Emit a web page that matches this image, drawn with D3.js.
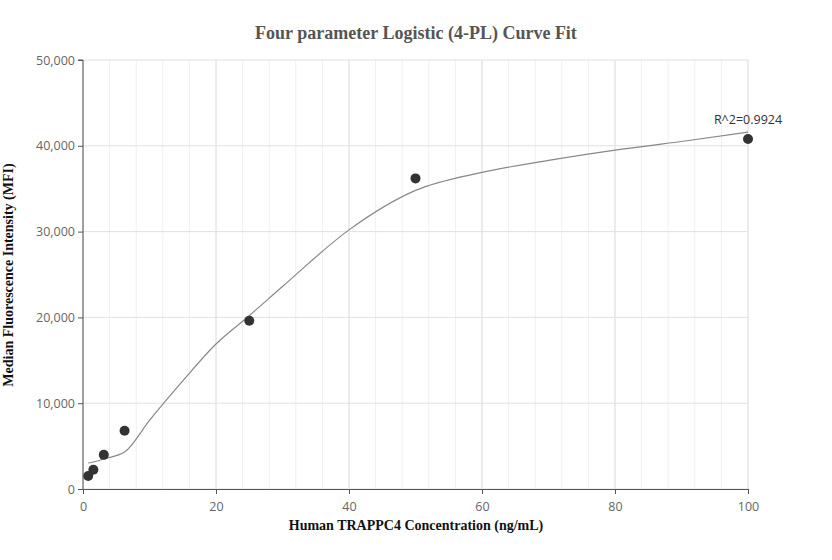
<!DOCTYPE html><html><head><meta charset="utf-8">
<script src="https://cdn.jsdelivr.net/npm/d3@7"></script>
<style>body{margin:0;background:#fff}</style></head><body><svg id="c" width="832" height="560"></svg>
<script>
const pointX=[0.78,1.56,3.125,6.25,25,50,100];
const pointY=[1520,2250,3980,6780,19600,36200,40800];
const curveX=[0.78,1.56,3.125,6.25,10,15,20,25,30,40,50,60,70,80,90,100];
const curveY=[3030,3150,3500,4300,8000,12600,16900,20200,23600,30200,34800,36900,38300,39500,40500,41600];
const xTicks=[0,20,40,60,80,100];
const yTicks=[0,10000,20000,30000,40000,50000];
const title="Four parameter Logistic (4-PL) Curve Fit";
const xLabel="Human TRAPPC4 Concentration (ng/mL)";
const yLabel="Median Fluorescence Intensity (MFI)";
const r2="R^2=0.9924";
const svg=d3.select("#c");
const L=83,R=748,T=60,B=489;
const x=d3.scaleLinear().domain([0,100]).range([L,R]);
const y=d3.scaleLinear().domain([0,50000]).range([B,T]);
const g=svg.append("g");
g.selectAll(".mv").data(d3.range(0,101,4)).join("line").attr("x1",d=>x(d)).attr("x2",d=>x(d)).attr("y1",T).attr("y2",B).attr("stroke","#f0f0f4");
g.selectAll(".Mv").data(xTicks).join("line").attr("x1",d=>x(d)).attr("x2",d=>x(d)).attr("y1",T).attr("y2",B).attr("stroke","#e0e0e6");
g.selectAll(".h").data(yTicks).join("line").attr("x1",L).attr("x2",R).attr("y1",d=>y(d)).attr("y2",d=>y(d)).attr("stroke","#e0e0e6");
const fmt=d3.format(",");
const ax=svg.append("g").attr("transform",`translate(0,${B})`).call(d3.axisBottom(x).tickValues(xTicks).tickSize(5).tickFormat(d=>d));
const ay=svg.append("g").attr("transform",`translate(${L},0)`).call(d3.axisLeft(y).tickValues(yTicks).tickSize(5).tickFormat(fmt));
[ax,ay].forEach(a=>{a.selectAll("path,line").attr("stroke","#555");a.selectAll("text").attr("fill","#666").attr("font-family","Open Sans, sans-serif").attr("font-size",12.5);});
ay.select("path").attr("d",`M-5,${T}H0V${B}`);
ax.selectAll("text").attr("dy","1.1em");
const line=d3.line().x((d,i)=>x(curveX[i])).y(d=>y(d)).curve(d3.curveMonotoneX);
svg.append("path").attr("d",line(curveY)).attr("fill","none").attr("stroke","#888").attr("stroke-width",1.2);
svg.selectAll(".p").data(pointY).join("circle").attr("cx",(d,i)=>x(pointX[i])).attr("cy",d=>y(d)).attr("r",5).attr("fill","#333");
svg.append("text").attr("x",x(100)).attr("y",y(41600)-8).attr("text-anchor","middle").attr("font-family","Open Sans, sans-serif").attr("font-size",12.5).attr("fill","#333").text(r2);
svg.append("text").attr("x",416).attr("y",39).attr("text-anchor","middle").attr("font-family","Liberation Serif, serif").attr("font-weight","bold").attr("font-size",18).attr("fill","#555").text(title);
svg.append("text").attr("x",416).attr("y",530).attr("text-anchor","middle").attr("font-family","Liberation Serif, serif").attr("font-weight","bold").attr("font-size",14).attr("fill","#111").text(xLabel);
svg.append("text").attr("transform","translate(13,275) rotate(-90)").attr("text-anchor","middle").attr("font-family","Liberation Serif, serif").attr("font-weight","bold").attr("font-size",14).attr("fill","#111").text(yLabel);
</script></body></html>
